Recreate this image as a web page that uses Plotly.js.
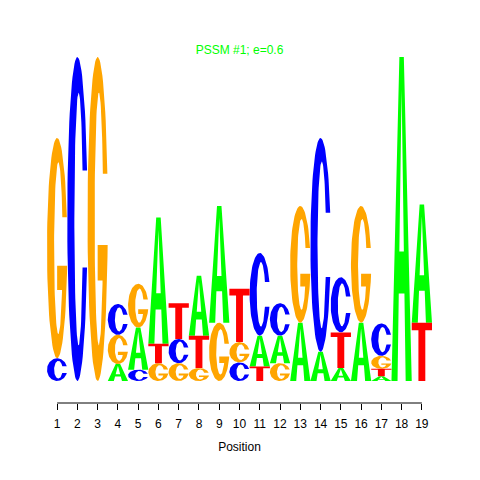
<!DOCTYPE html>
<html><head><meta charset="utf-8">
<script src="https://cdn.plot.ly/plotly-3.0.1.min.js"></script>
<style>html,body{margin:0;padding:0;background:#fff}#chart{width:480px;height:480px}</style>
</head><body><div id="chart"></div>
<script>
// ---- data (information content in bits) ----
const positions = [1,2,3,4,5,6,7,8,9,10,11,12,13,14,15,16,17,18,19];
const tickLabels = ['1','2','3','4','5','6','7','8','9','10','11','12','13','14','15','16','17','18','19'];
const heightA = [0,0,0,0.105,0.26,0.78,0,0.37,0.72,0,0.19,0.17,0.36,0.18,0.08,0.36,0.03,2.00,0.73];
const heightC = [0.14,2.00,0,0.19,0.07,0,0.15,0,0,0.115,0.51,0.20,0,1.32,0.34,0,0.20,0,0];
const heightG = [1.36,0,2.00,0.18,0.27,0.11,0.11,0.08,0.36,0.125,0,0.11,0.72,0,0,0.72,0.08,0,0];
const heightT = [0,0,0,0,0,0.12,0.22,0.20,0,0.33,0.09,0,0,0,0.22,0,0.045,0,0.36];
const bases = ['A','C','G','T'];
const titleText = 'PSSM #1; e=0.6';
const xTitle = 'Position';

const baseColors = {A:'#00FF00', C:'#0000FF', G:'#FFA500', T:'#FF0000'};
const heights = {A:heightA, C:heightC, G:heightG, T:heightT};

// ---- glyph outlines in a unit box ----
function ell(cx,cy,rx,ry,a0,a1,n){
  const p=[];
  for(let i=0;i<=n;i++){const a=(a0+(a1-a0)*i/n)*Math.PI/180;p.push([cx+rx*Math.cos(a),cy+ry*Math.sin(a)]);}
  return p;
}
const deg = r => r*180/Math.PI;
function glyphC(){
  const tY=0.65, icx=0.56, irx=0.21, iry=0.39;
  const oA=deg(Math.asin((tY-0.5)/0.5)), iA=deg(Math.asin((tY-0.5)/iry));
  return ell(0.5,0.5,0.5,0.5,oA,360-oA,80).concat(ell(icx,0.5,irx,iry,360-iA,iA,80));
}
function glyphG(){
  const tY=0.64, icx=0.56, irx=0.21, iry=0.39, barTop=0.42, barBot=0.31, barLeft=0.5, stemX=0.74;
  const oA=deg(Math.asin((tY-0.5)/0.5)), iA=deg(Math.asin((tY-0.5)/iry));
  const oB=360+deg(Math.asin((barTop-0.5)/0.5));
  const iS=360-deg(Math.acos((stemX-icx)/irx));
  return ell(0.5,0.5,0.5,0.5,oA,oB,80)
    .concat([[barLeft,barTop],[barLeft,barBot],[stemX,barBot]])
    .concat(ell(icx,0.5,irx,iry,iS,iA,80));
}
function glyphT(){
  return [[0,1],[1,1],[1,0.87],[0.67,0.87],[0.67,0],[0.33,0],[0.33,0.87],[0,0.87]];
}
const aIn = (y,side)=> side<0 ? 0.30+0.2*y/0.9 : 0.70-0.2*y/0.9;
function glyphA(){
  const cb=0.27;
  return [[0,0],[0.39,1],[0.61,1],[1,0],[0.70,0],[aIn(cb,1),cb],[aIn(cb,-1),cb],[0.30,0]];
}
function counterA(){
  const ct=0.40;
  return [[aIn(ct,-1),ct],[aIn(ct,1),ct],[0.5,0.9]];
}
const glyphs = {A:glyphA(), C:glyphC(), G:glyphG(), T:glyphT()};

// ---- build traces ----
const xs={A:[],C:[],G:[],T:[]}, ys={A:[],C:[],G:[],T:[]};
const holeX=[], holeY=[];
positions.forEach((p,i)=>{
  const stack = bases.map(b=>({b, h:heights[b][i]})).filter(o=>o.h>0).sort((a,b)=>a.h-b.h);
  let y0=0;
  stack.forEach(o=>{
    glyphs[o.b].forEach(pt=>{xs[o.b].push(p-0.5+pt[0]); ys[o.b].push(y0+pt[1]*o.h);});
    xs[o.b].push(null); ys[o.b].push(null);
    if(o.b==='A'){
      counterA().forEach(pt=>{holeX.push(p-0.5+pt[0]); holeY.push(y0+pt[1]*o.h);});
      holeX.push(null); holeY.push(null);
    }
    y0+=o.h;
  });
});
const traces = bases.map(b=>({
  type:'scatter', mode:'lines', x:xs[b], y:ys[b], fill:'toself',
  fillcolor:baseColors[b], line:{width:0, color:baseColors[b]}, hoverinfo:'skip', showlegend:false
}));
traces.push({type:'scatter', mode:'lines', x:holeX, y:holeY, fill:'toself', fillcolor:'#FFFFFF',
  line:{width:0,color:'#FFFFFF'}, hoverinfo:'skip', showlegend:false});

const font = 'Liberation Sans, Arial, Helvetica, sans-serif';
const layout = {
  width:480, height:480,
  margin:{l:47, r:48, t:40, b:77},
  paper_bgcolor:'#fff', plot_bgcolor:'#fff',
  showlegend:false,
  title:{text:titleText, font:{family:font, size:12, color:'#00FF00'}, x:0.5, xref:'paper', y:1-50/480, yref:'container', yanchor:'middle'},
  xaxis:{range:[positions[0]-0.5, positions[positions.length-1]+0.5], tickvals:positions, ticktext:tickLabels,
    ticks:'outside', ticklen:6, tickcolor:'#000', tickwidth:1, showline:false, showgrid:false, zeroline:false,
    ticklabelstandoff:4,
    tickfont:{family:font, size:12, color:'#000'}, title:{text:xTitle, font:{family:font, size:12, color:'#000'}, standoff:12}, fixedrange:true},
  yaxis:{range:[-0.1358, 2.1049], visible:false, showgrid:false, zeroline:false, fixedrange:true},
  shapes:[{type:'line', xref:'x', yref:'paper', x0:positions[0], x1:positions[positions.length-1], y0:0, y1:0, line:{color:'#000', width:1}}]
};
Plotly.newPlot('chart', traces, layout, {staticPlot:true, displayModeBar:false});
</script>
</body></html>
